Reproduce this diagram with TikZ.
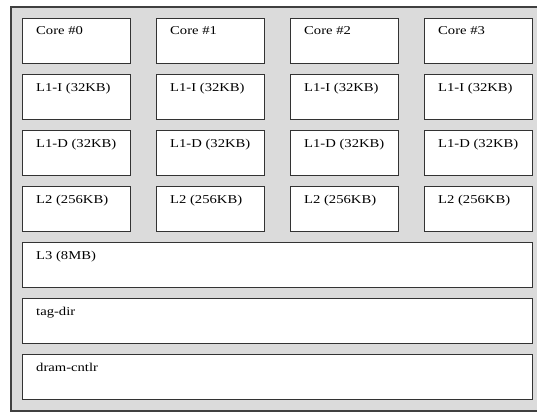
\documentclass[tikz,border=0pt]{standalone}
\usepackage{fontspec}
\setmainfont{Liberation Serif}
\newfontfamily\unitfont[FakeStretch=1.22]{Liberation Serif}
\begin{document}
\begin{tikzpicture}[x=1pt,y=-1pt,
  outerbox/.style={draw=black!75,fill=black!14,line width=1.2pt},
  unitbox/.style={draw=black!80,fill=white,line width=1pt,anchor=north west,inner sep=0pt},
  unitlabel/.style={anchor=north west,inner sep=0pt,font=\unitfont\fontsize{12}{14}\selectfont}]
\useasboundingbox (0,0) rectangle (537,412);
\draw[outerbox] (11,7) rectangle (537.5,411);
\foreach \c in {0,1,2,3}{
  \foreach \r/\t in {0/Core \#\c,1/L1-I (32KB),2/L1-D (32KB),3/L2 (256KB)}{
    \node[unitbox,minimum width=108pt,minimum height=45pt] (b\r\c) at ({22+134*\c},{18+56*\r}) {};
    \node[unitlabel] (t\r\c) at ([shift={(14pt,-8.5pt)}]b\r\c.north west) {\t};
  }
}
\foreach \r/\t/\n in {4/L3 (8MB)/l3,5/tag-dir/tag,6/dram-cntlr/dram}{
  \node[unitbox,minimum width=510pt,minimum height=45pt] (\n) at (22,{18+56*\r}) {};
  \node[unitlabel] (\n t) at ([shift={(14pt,-8.5pt)}]\n.north west) {\t};
}
\end{tikzpicture}
\end{document}
